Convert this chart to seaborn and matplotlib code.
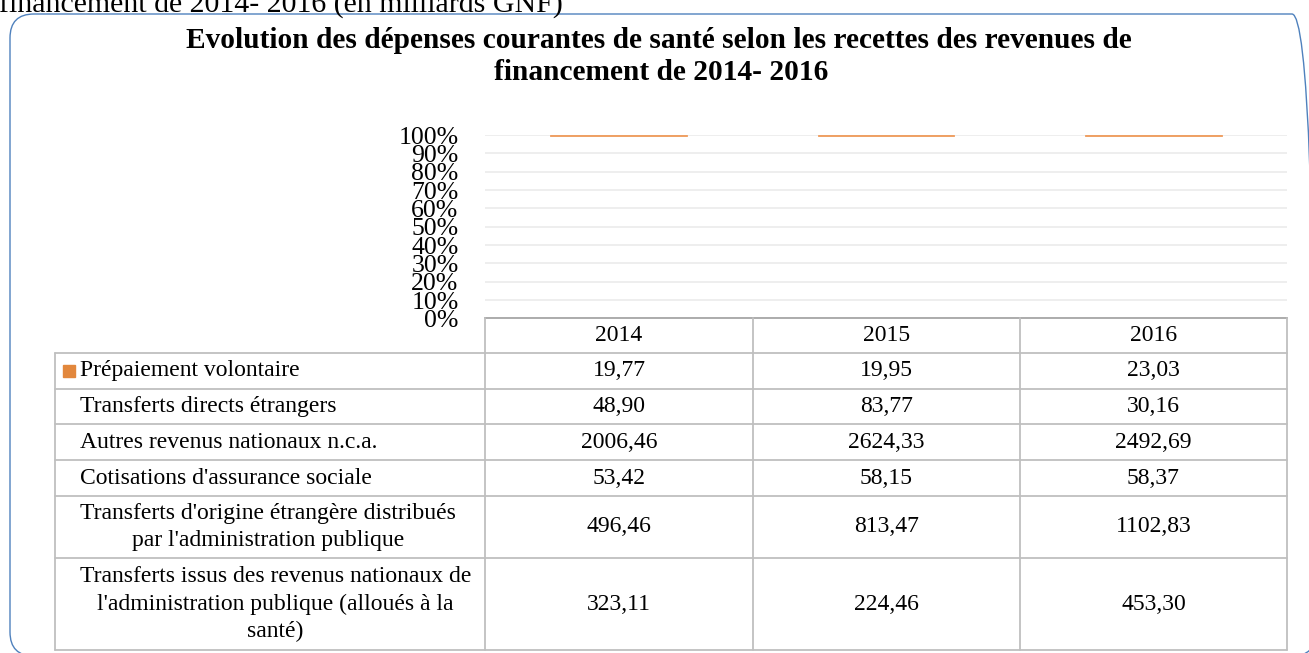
import numpy as np
import pandas as pd
import matplotlib
matplotlib.use("Agg")
import matplotlib.pyplot as plt
from matplotlib.patches import FancyBboxPatch, Rectangle
from matplotlib.lines import Line2D
import seaborn as sns

# Data (milliards GNF)
annees = ['2014', '2015', '2016']
series = ["Prépaiement volontaire",
          "Transferts directs étrangers",
          "Autres revenus nationaux n.c.a.",
          "Cotisations d'assurance sociale",
          "Transferts d'origine étrangère distribués\npar l'administration publique",
          "Transferts issus des revenus nationaux de\nl'administration publique (alloués à la\nsanté)"]
prepaiement = [19.77, 19.95, 23.03]
transferts_directs = [48.90, 83.77, 30.16]
autres_revenus = [2006.46, 2624.33, 2492.69]
cotisations = [53.42, 58.15, 58.37]
transferts_origine = [496.46, 813.47, 1102.83]
transferts_issus = [323.11, 224.46, 453.30]

valeurs = [prepaiement, transferts_directs, autres_revenus,
           cotisations, transferts_origine, transferts_issus]

W, H = 1309, 653
sns.set_theme(style="white")
plt.rcParams['font.family'] = ['Liberation Serif', 'DejaVu Serif']
plt.rcParams['text.color'] = 'black'
plt.rcParams['ytick.color'] = 'black'
plt.rcParams['xtick.color'] = 'black'

fig = plt.figure(figsize=(W / 100, H / 100), dpi=100)

# helper : pixels (from top-left) -> figure coords
def fx(x):
    return x / W

def fy(y):
    return 1 - y / H

# 100% stacked : only the top segment (Prépaiement) is filled
totaux = np.sum(np.array(valeurs), axis=0)
part_prep = np.array(prepaiement) / totaux
df = pd.DataFrame({'annee': annees, 'part': part_prep, 'bas': 1 - part_prep})

x_left, x_right = 485, 1287
y_top, y_bot = 135, 318.5
ax = fig.add_axes([fx(x_left), fy(y_bot), fx(x_right) - fx(x_left), fy(y_top) - fy(y_bot)])
sns.barplot(data=df, x='annee', y='part', bottom=df['bas'].values, color='#EE9A5A',
            width=0.51, saturation=1, errorbar=None, edgecolor='#EE9A5A', linewidth=0.6,
            zorder=3, clip_on=False, ax=ax)
ax.set_ylim(0, 1)
ax.set_xlim(-0.5, 2.5)
ticks = np.arange(0, 1.01, 0.1)
ax.set_yticks(ticks)
ax.set_yticklabels([f"{int(round(v * 100))}%" for v in ticks], fontsize=18.5)
ax.set_xticks([])
ax.set_xlabel('')
ax.set_ylabel('')
ax.grid(axis='y', color='#EDEDED', linewidth=1.3)
ax.set_axisbelow(True)
ax.tick_params(axis='y', length=0, pad=19)
for s in ['left', 'right', 'top']:
    ax.spines[s].set_visible(False)
ax.spines['bottom'].set_color('#A6A6A6')
ax.spines['bottom'].set_linewidth(1.3)

# Titles
fig.text(fx(-1), fy(13), "financement de 2014- 2016 (en milliards GNF)", fontsize=21.5,
         ha='left', va='baseline')
fig.text(fx(659), fy(40), "Evolution des dépenses courantes de santé selon les recettes des revenues de",
         fontsize=21.2, fontweight='bold', ha='center', va='center')
fig.text(fx(661), fy(72), "financement de 2014- 2016", fontsize=21.2, fontweight='bold',
         ha='center', va='center')

# Data table
grid_c = '#BFBFBF'
col_edges = [55, 485, 753, 1020, 1287]
row_edges = [318.5, 353, 389, 424, 460, 496, 558, 650]

def hline(x0, x1, y, c=grid_c):
    fig.add_artist(Line2D([fx(x0), fx(x1)], [fy(y), fy(y)], color=c, lw=1.3,
                          transform=fig.transFigure))

def vline(x, y0, y1, c=grid_c):
    fig.add_artist(Line2D([fx(x), fx(x)], [fy(y0), fy(y1)], color=c, lw=1.3,
                          transform=fig.transFigure))

for y in row_edges[1:]:
    hline(col_edges[0], col_edges[-1], y)
vline(col_edges[0], row_edges[1], row_edges[-1])
for x in col_edges[1:]:
    vline(x, row_edges[0], row_edges[-1])

fs = 17
centres_col = [(col_edges[i] + col_edges[i + 1]) / 2 for i in range(1, 4)]
yh = (row_edges[0] + row_edges[1]) / 2
for cx, a in zip(centres_col, annees):
    fig.text(fx(cx), fy(yh), a, fontsize=fs, ha='center', va='center')

for i, (nom, vals) in enumerate(zip(series, valeurs)):
    cy = (row_edges[i + 1] + row_edges[i + 2]) / 2
    fig.text(fx(80), fy(cy), nom, fontsize=fs, ha='left', va='center',
             multialignment='center', linespacing=1.42)
    for cx, v in zip(centres_col, vals):
        fig.text(fx(cx), fy(cy), f"{v:.2f}".replace('.', ','), fontsize=fs,
                 ha='center', va='center')

# legend key for the visible series
cy1 = (row_edges[1] + row_edges[2]) / 2
fig.add_artist(Rectangle((fx(63), fy(cy1 + 6)), fx(12), 12 / H, color='#E2873C',
                         transform=fig.transFigure))

# rounded chart border
fig.add_artist(FancyBboxPatch((10 / 100, -0.03), 1306 / 100, (H - 14) / 100 + 0.03,
                              boxstyle="round,pad=0,rounding_size=0.24",
                              transform=fig.dpi_scale_trans, fill=False,
                              edgecolor='#4F81BD', linewidth=1.0))

fig.savefig('out.png', dpi=100)
